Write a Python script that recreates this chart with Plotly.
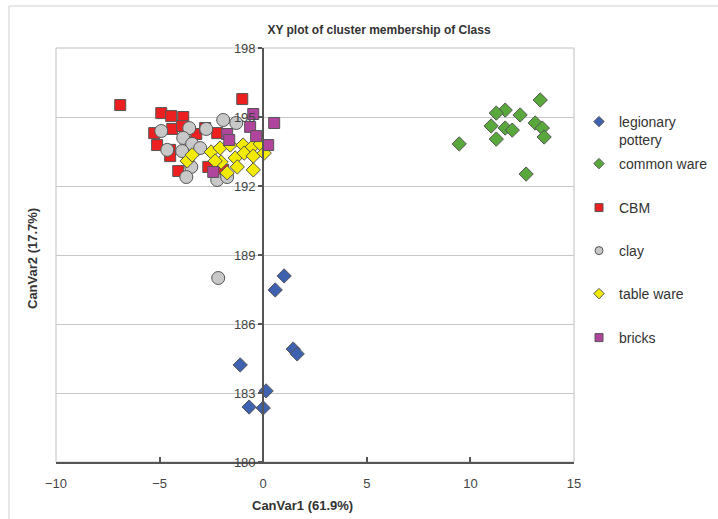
import plotly.graph_objects as go

# Canonical variate scores per class
legionary_x = [1.01, 0.58, -1.11, 1.45, 1.64, 0.14, -0.68, 0.00]
legionary_y = [188.09, 187.48, 184.22, 184.91, 184.70, 183.09, 182.39, 182.35]

common_x = [13.37, 11.68, 11.25, 12.40, 11.00, 11.68, 12.02, 13.13, 13.47, 13.56, 11.25, 9.46, 12.69]
common_y = [195.74, 195.30, 195.17, 195.09, 194.61, 194.52, 194.43, 194.74, 194.52, 194.13, 194.04, 193.83, 192.52]

cbm_x = [-6.90, -4.92, -4.44, -3.86, -5.26, -4.39, -3.91, -3.23, -5.12, -4.49, -4.10, -4.49,
         -1.01, -2.80, -2.22, -2.65, -1.93]
cbm_y = [195.52, 195.17, 195.04, 195.00, 194.30, 194.48, 194.61, 194.26, 193.78, 193.57, 192.65, 193.30,
         195.78, 194.52, 194.30, 192.83, 192.70]

clay_x = [-4.92, -3.57, -3.86, -3.43, -4.63, -3.91, -3.47, -3.71, -2.75, -1.93, -1.30, -3.04,
          -2.22, -1.74, -2.17]
clay_y = [194.39, 194.52, 194.09, 193.83, 193.57, 193.52, 192.83, 192.39, 194.48, 194.87, 194.74, 193.65,
          192.26, 192.39, 188.00]

table_x = [-3.67, -2.51, -2.03, -2.08, -1.59, -1.35, -1.25, -0.97, -0.92, -0.53, -0.48, -0.48,
           -0.14, 0.05, -1.74, -3.43, -2.32]
table_y = [193.09, 193.48, 193.04, 193.65, 193.78, 193.22, 192.83, 193.78, 193.43, 193.70, 193.30, 192.70,
           193.83, 193.43, 192.57, 193.35, 193.09]

bricks_x = [-0.48, 0.53, -0.63, -0.34, -1.74, -1.64, 0.24, -2.41]
bricks_y = [195.13, 194.74, 194.57, 194.17, 194.26, 194.00, 193.78, 192.61]

x_ticks = [-10, -5, 0, 5, 10, 15]
y_ticks = [180, 183, 186, 189, 192, 195, 198]

series = [
    ("legionary<br>pottery", legionary_x, legionary_y, "diamond", "#3f62b0", 11),
    ("common ware", common_x, common_y, "diamond", "#58a83c", 11),
    ("CBM", cbm_x, cbm_y, "square", "#ec2020", 11),
    ("clay", clay_x, clay_y, "circle", "#c8c8c8", 13),
    ("table ware", table_x, table_y, "diamond", "#f2ea00", 11),
    ("bricks", bricks_x, bricks_y, "square", "#b0459e", 11),
]

W, H = 718, 519
L, R, T, B = 56, 144, 48, 57

# vertical pixel centre of each legend entry
legend_rows = [121, 163, 207, 250, 293, 337]

fig = go.Figure()
legend_layouts = {}
for i, (name, xs, ys, sym, col, sz) in enumerate(series):
    key = "legend" if i == 0 else f"legend{i + 1}"
    fig.add_trace(go.Scatter(
        x=xs, y=ys, mode="markers", name=name, showlegend=False,
        marker=dict(symbol=sym, color=col, size=sz, line=dict(color="#555555", width=1)),
    ))
    # smaller key symbol for the legend entry
    fig.add_trace(go.Scatter(
        x=[None], y=[None], mode="markers", name=name, legend=key, showlegend=True,
        marker=dict(symbol=sym, color=col, size=8, line=dict(color="#555555", width=1)),
    ))
    legend_layouts[key] = dict(
        x=579 / W, xref="container", xanchor="left",
        y=1 - (legend_rows[i] - 15) / H, yref="container", yanchor="top",
        valign="top", itemsizing="trace", bgcolor="rgba(0,0,0,0)",
        font=dict(family="Liberation Sans, Arial, sans-serif", size=14, color="#333333"),
    )

axis_font = dict(family="Liberation Sans, Arial, sans-serif", size=13, color="#444444")

fig.update_layout(
    width=W, height=H,
    margin=dict(l=L, r=R, t=T, b=B, autoexpand=False),
    paper_bgcolor="white", plot_bgcolor="white",
    showlegend=True,
    title=dict(
        text="<b>XY plot of cluster membership of Class</b>",
        x=379 / W, xanchor="center", xref="container",
        y=1 - 30 / H, yanchor="middle", yref="container",
        font=dict(family="Liberation Sans, Arial, sans-serif", size=12, color="#333333"),
    ),
    xaxis=dict(
        range=[-10, 15], tickvals=x_ticks, showgrid=False, zeroline=False,
        showline=True, linecolor="#555555", linewidth=2,
        ticks="inside", ticklen=5, tickcolor="#555555", tickwidth=2,
        tickfont=axis_font, ticklabelstandoff=8,
    ),
    yaxis=dict(
        range=[180, 198], tickvals=y_ticks, anchor="free", position=0.4,
        showgrid=True, gridcolor="#c8c8c8", gridwidth=1, zeroline=False,
        showline=True, linecolor="#555555", linewidth=2,
        ticks="outside", ticklen=4, tickcolor="#555555", tickwidth=2,
        tickfont=axis_font,
    ),
    **legend_layouts,
)

plot_w = W - L - R
plot_h = H - T - B

# plot-area frame and outer chart border
fig.add_shape(type="rect", xref="paper", yref="paper", x0=0, x1=1, y0=0, y1=1,
              line=dict(color="#c0c0c0", width=1), layer="below")
fig.add_shape(type="rect", xref="paper", yref="paper",
              x0=(9 - L) / plot_w, x1=2, y0=-1, y1=(H - B - 6) / plot_h,
              line=dict(color="#d0d0d0", width=1), layer="below")

title_font = dict(family="Liberation Sans, Arial, sans-serif", size=13, color="#333333")
fig.add_annotation(text="<b>CanVar1 (61.9%)</b>", xref="paper", yref="paper",
                   x=(302 - L) / plot_w, y=(H - B - 505) / plot_h,
                   xanchor="center", yanchor="middle", showarrow=False, font=title_font)
fig.add_annotation(text="<b>CanVar2 (17.7%)</b>", xref="paper", yref="paper",
                   x=(32 - L) / plot_w, y=(H - B - 259) / plot_h, textangle=-90,
                   xanchor="center", yanchor="middle", showarrow=False, font=title_font)

fig.write_html("out.html")
